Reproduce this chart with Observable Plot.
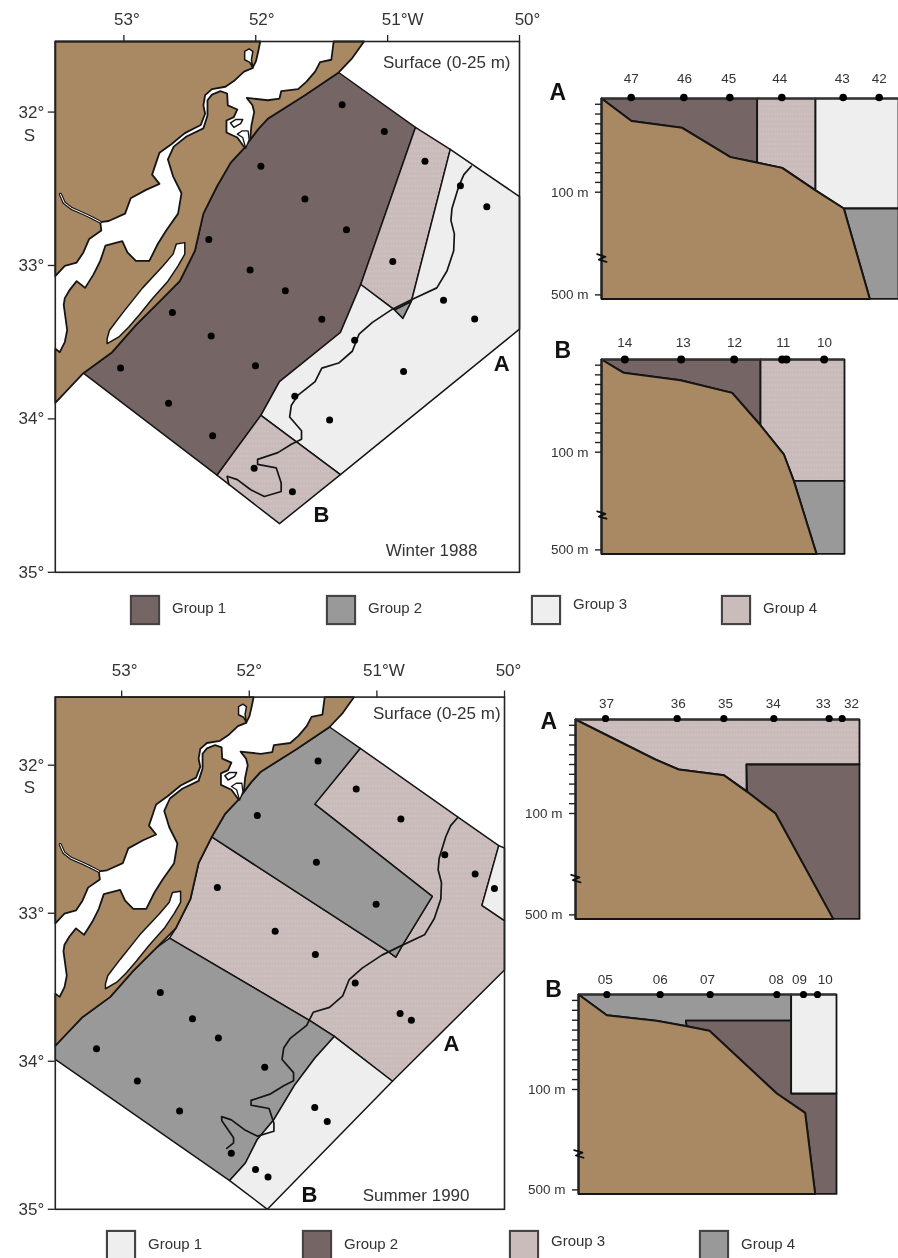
<!DOCTYPE html>
<html><head><meta charset="utf-8">
<script src="https://cdn.jsdelivr.net/npm/d3@7"></script>
<script src="https://cdn.jsdelivr.net/npm/@observablehq/plot@0.6"></script>
<style>
html,body{margin:0;padding:0;background:#fff}
#page{position:relative;width:898px;height:1258px;overflow:hidden;font-family:"Liberation Sans",Arial,sans-serif;color:#333;filter:blur(.35px)}
#page svg{position:absolute;overflow:visible;background:transparent}
.sw{position:absolute;width:26px;height:26px;border:2px solid #444;box-sizing:content-box;box-shadow:0 0 1px #666}
.lb{position:absolute;font-size:15px;line-height:18px;white-space:nowrap}
</style></head><body><div id="page"><svg width="0" height="0"><defs><pattern id="stip" width="3" height="5" patternUnits="userSpaceOnUse"><rect width="3" height="5" fill="#cabbbb"/><rect width="1" height="1" fill="#dacfcf"/></pattern></defs></svg></div>
<script>
const ink="#151515", textInk="#333";
const BROWN="#a98864", DARK="#756565", GREY="#999999", LIGHT="#eeeeee", PINK="url(#stip)";
const FONT='"Liberation Sans",Arial,sans-serif';

// ---- geography: [degrees W, degrees S] ----
const shore=[[51.371,31.742],[51.627,31.890],[51.909,32.044],[51.981,32.111],[52.084,32.232],[52.191,32.331],[52.294,32.485],[52.397,32.662],[52.461,32.904],[52.576,33.102],[52.730,33.235],[52.909,33.389],[53.089,33.565],[53.307,33.702]];
const landWest=[[53.52,31.54],[51.966,31.54],[51.981,31.604],[51.999,31.670],[52.025,31.714],[52.089,31.736],[52.166,31.798],[52.230,31.835],[52.332,31.850],[52.384,31.890],[52.397,31.956],[52.384,32.011],[52.417,32.084],[52.538,32.137],[52.640,32.210],[52.730,32.265],[52.756,32.331],[52.786,32.408],[52.730,32.468],[52.832,32.507],[52.948,32.562],[52.991,32.662],[53.115,32.710],[53.179,32.717],[53.171,32.772],[53.263,32.827],[53.307,32.915],[53.358,32.981],[53.448,33.003],[53.52,33.069]];
const landNorth=[[51.409,31.54],[51.179,31.54],[51.268,31.648],...shore.slice(0,4),[52.043,32.181],[52.033,32.088],[52.012,32.000],[52.025,31.956],[52.068,31.908],[51.909,31.923],[51.820,31.912],[51.807,31.864],[51.679,31.850],[51.615,31.802],[51.550,31.736],[51.512,31.674],[51.427,31.659]];
const landSouth=[[52.268,31.864],[52.217,31.879],[52.212,31.956],[52.140,31.983],[52.166,32.033],[52.222,32.055],[52.222,32.133],[52.140,32.166],...shore.slice(4),[53.52,33.896],[53.52,33.543],[53.486,33.565],[53.448,33.499],[53.430,33.422],[53.456,33.257],[53.448,33.213],[53.409,33.157],[53.358,33.102],[53.294,33.146],[53.230,33.058],[53.179,32.970],[53.140,32.871],[53.012,32.842],[52.973,32.915],[52.909,32.970],[52.807,32.970],[52.743,32.860],[52.679,32.772],[52.589,32.662],[52.563,32.529],[52.627,32.419],[52.666,32.309],[52.622,32.225],[52.525,32.159],[52.397,32.106],[52.366,32.022],[52.366,31.923],[52.332,31.886]];
const lakeNorth=[[52.084,31.604],[52.050,31.588],[52.022,31.604],[52.033,31.659],[52.022,31.714],[52.045,31.676],[52.084,31.659]];
const lakeSmall=[[52.191,32.071],[52.153,32.049],[52.099,32.049],[52.115,32.075],[52.166,32.100]];
const lakeMouth=[[52.140,32.144],[52.102,32.122],[52.058,32.122],[52.050,32.181],[52.076,32.236],[52.099,32.166]];
const lakeLong=[[52.602,32.860],[52.538,32.851],[52.538,32.926],[52.589,33.003],[52.666,33.102],[52.781,33.213],[52.884,33.323],[52.961,33.400],[53.038,33.466],[53.127,33.510],[53.127,33.477],[53.109,33.422],[53.012,33.312],[52.858,33.146],[52.704,33.003],[52.627,32.926]];
const stream=[[53.481,32.536],[53.453,32.591],[53.397,32.628],[53.307,32.662],[53.243,32.688],[53.179,32.717]];
const isobath=[[50.366,32.353],[50.422,32.408],[50.461,32.485],[50.512,32.628],[50.520,32.706],[50.494,32.794],[50.499,32.904],[50.550,33.036],[50.627,33.146],[50.820,33.224],[50.961,33.283],[51.115,33.371],[51.217,33.448],[51.268,33.559],[51.371,33.636],[51.499,33.669],[51.550,33.757],[51.679,33.845],[51.730,33.911],[51.743,33.988],[51.653,34.077],[51.653,34.132],[51.730,34.165],[51.832,34.220],[51.986,34.264],[51.986,34.297],[51.845,34.319],[51.807,34.418],[51.807,34.473],[51.935,34.506],[52.038,34.462],[52.140,34.396],[52.217,34.374]];
const isobathTailWinter=[[52.204,34.429]];
const isobathTailSummer=[[52.215,34.402],[52.123,34.516],[52.123,34.551],[52.176,34.589]];

// ---- winter 1988 water masses and stations ----
const winterG1=[[51.371,31.742],[50.789,32.100],[51.204,33.124],[51.358,33.437],[51.820,33.757],[51.961,33.977],[52.294,34.367],...[...shore].reverse().slice(0,-1)];
const winterG4North=[[50.789,32.100],[50.525,32.243],[50.820,33.235],[50.948,33.290],[51.204,33.124]];
const winterG2=[[50.948,33.290],[50.820,33.235],[50.884,33.345]];
const winterG3=[[50.525,32.243],[50.0,32.551],[50.0,33.415],[51.358,34.363],[51.961,33.977],[51.820,33.757],[51.358,33.437],[51.204,33.124],[50.948,33.290],[50.884,33.345],[50.820,33.235]];
const winterG4South=[[51.961,33.977],[51.358,34.363],[51.820,34.683],[52.294,34.367]];
const winterStations=[[51.345,31.952],[51.025,32.126],[50.717,32.320],[51.961,32.353],[51.627,32.567],[51.312,32.767],[50.448,32.481],[50.248,32.617],[52.356,32.831],[52.043,33.030],[51.776,33.164],[50.961,32.974],[50.576,33.226],[52.632,33.307],[51.499,33.351],[50.340,33.349],[52.338,33.459],[51.250,33.488],[53.025,33.669],[52.002,33.653],[50.879,33.691],[51.704,33.852],[52.661,33.898],[51.440,34.008],[52.327,34.110],[52.012,34.321],[51.722,34.475]];

// ---- summer 1990 water masses and stations ----
const summerG4North=[[51.130,31.886],[51.487,32.263],[50.566,32.886],[50.799,33.216],[50.852,33.296],[50.918,33.255],[52.294,32.485],[52.191,32.331],[52.084,32.232],[51.981,32.111],[51.909,32.044],[51.627,31.890],[51.371,31.742]];
const summerG3=[[51.130,31.886],[50.370,32.347],[50.045,32.543],[50.177,32.947],[50.0,33.050],[50.0,33.383],[50.878,34.135],[51.334,33.832],[51.519,33.729],[52.625,33.168],[52.576,33.102],[52.461,32.904],[52.397,32.662],[52.294,32.485],[50.918,33.255],[50.852,33.296],[50.799,33.216],[50.566,32.886],[51.487,32.263]];
const summerG1Corner=[[50.045,32.543],[50.0,32.559],[50.0,33.050],[50.177,32.947]];
const summerG4South=[[52.625,33.168],[51.519,33.729],[51.334,33.832],[51.487,33.980],[51.646,34.163],[51.805,34.391],[51.937,34.528],[52.030,34.687],[52.154,34.806],[53.52,33.987],[53.52,33.889],[53.307,33.702],[53.089,33.565],[52.909,33.389],[52.730,33.235]];
const summerG1South=[[51.334,33.832],[50.878,34.135],[51.858,35.0],[52.154,34.806],[52.030,34.687],[51.937,34.528],[51.805,34.391],[51.646,34.163],[51.487,33.980]];
const summerStations=[[51.461,31.971],[51.162,32.160],[50.812,32.363],[51.937,32.340],[51.474,32.655],[50.468,32.605],[50.230,32.735],[50.079,32.833],[52.250,32.826],[51.006,32.940],[51.797,33.121],[51.482,33.278],[52.697,33.536],[52.445,33.713],[52.242,33.843],[51.170,33.472],[50.818,33.677],[50.730,33.723],[53.197,33.916],[52.877,34.133],[51.879,34.040],[52.546,34.336],[51.487,34.313],[51.389,34.407],[52.141,34.621],[51.951,34.731],[51.853,34.781]];

// ---- axis labels ----
const lonTicks=[53,52,51,50];
const lonLabels=["53°","52°","51°W","50°"];
const latTicks=[32,33,34,35];

// ---- sections: [distance along section, depth m] ----
const depthTicks=[10,20,30,40,50,60,70,80,90,100,500];
const breakMark=[[-13,326],[12,336],[-8,347],[15,356]];

const winterA={w:891,
  bottom:[[0,0],[90,23],[242,30],[387,60],[542,71],[642,94],[727,148],[805,500]],
  masses:[[DARK,[[0,0],[467,0],[467,65.5],[387,60],[242,30],[90,23]]],
          [PINK,[[467,0],[642,0],[642,94],[542,71],[467,65.5]]],
          [LIGHT,[[642,0],[891,0],[891,148],[727,148],[642,94]]],
          [GREY,[[727,148],[891,148],[891,500],[805,500]]]]};
const winterAStations=[89,247,385,541,725,833];
const winterALabels=["47","46","45","44","43","42"];
const winterALabelX=[89,249,382,535,722,833];
const winterB={w:729,
  bottom:[[0,0],[67,13.8],[237,21.4],[392,34.5],[477,68],[547,98],[577,201],[645,500]],
  masses:[[DARK,[[0,0],[477,0],[477,68],[392,34.5],[237,21.4],[67,13.8]]],
          [PINK,[[477,0],[729,0],[729,201],[577,201],[547,98],[477,68]]],
          [GREY,[[577,201],[729,201],[729,500],[645,500]]]]};
const winterBStations=[70,239,398,542,555,668];
const winterBLabels=["14","13","12","11","10"];
const winterBLabelX=[70,245,399,545,669];
const summerA={w:852,
  bottom:[[0,0],[240,40.8],[310,51],[445,56.8],[515,73.8],[600,95.9],[773,500]],
  masses:[[PINK,[[0,0],[852,0],[852,45.9],[513,45.9],[513,73],[445,56.8],[310,51],[240,40.8]]],
          [DARK,[[513,45.9],[852,45.9],[852,500],[773,500],[600,95.9],[515,73.8]]]]};
const summerAStations=[90,305,445,595,761,800];
const summerALabels=["37","36","35","34","33","32"];
const summerALabelX=[93,308,450,593,743,828];
const summerB={w:774,
  bottom:[[0,0],[85,20.9],[235,26.6],[325,32],[393,36.7],[595,100],[680,177],[710,500]],
  masses:[[GREY,[[0,0],[638,0],[638,26.3],[322,26.3],[325,32],[235,26.6],[85,20.9]]],
          [DARK,[[322,26.3],[638,26.3],[638,100],[774,100],[774,500],[710,500],[680,177],[595,100],[393,36.7],[325,32]]],
          [LIGHT,[[638,0],[774,0],[774,100],[638,100]]]]};
const summerBStations=[85,245,395,595,675,717];
const summerBLabels=["05","06","07","08","09","10"];
const summerBLabelX=[80,245,387,593,663,740];

// ---- legends ----
const groupNames=["Group 1","Group 2","Group 3","Group 4"];
const winterLegendColors=[DARK,GREY,LIGHT,"#cbbcbc"];
const summerLegendColors=[LIGHT,DARK,"#cbbcbc",GREY];

// ---- drawing ----
const page=document.getElementById("page");
function place(svg,left,top){svg.style.left=left+"px";svg.style.top=top+"px";page.appendChild(svg);}
const X=d=>d[0],Y=d=>d[1];
const ring=(pts,fill,sw=1.5)=>Plot.line(pts,{x:X,y:Y,curve:"linear-closed",fill,stroke:ink,strokeWidth:sw,strokeLinejoin:"round"});

function map(o){
  const land=[ring(landWest,BROWN,1.8),ring(landNorth,BROWN,1.8),ring(landSouth,BROWN,1.8),
    ring(lakeNorth,"#fff",1.5),ring(lakeSmall,"#fff",1.5),ring(lakeMouth,"#fff",1.3),ring(lakeLong,"#fff",1.5),
    Plot.line(stream,{x:X,y:Y,stroke:ink,strokeWidth:3.2}),Plot.line(stream,{x:X,y:Y,stroke:"#fff",strokeWidth:1})];
  const lonMarks=lonTicks.map((t,i)=>Plot.text([lonLabels[i]],{x:()=>t,frameAnchor:"top",dy:-o.lonDy,dx:o.lonDx[i],text:d=>d,fontSize:17,fill:textInk,lineAnchor:"middle"}));
  const plot=Plot.plot({width:o.width,height:o.height,marginLeft:o.ml,marginTop:o.mt,marginRight:o.mr,marginBottom:o.mb,
    style:{fontFamily:FONT,background:"transparent",overflow:"visible"},
    x:{domain:[53.52,50]},y:{domain:[35,31.54]},
    marks:[
      ...o.masses.map(([c,p])=>ring(p,c)),
      Plot.line(o.isobath,{x:X,y:Y,stroke:ink,strokeWidth:1.7,strokeLinejoin:"round"}),
      ...land,
      Plot.dot(o.stations,{x:X,y:Y,r:3.5,fill:"#000"}),
      Plot.frame({stroke:"#222",strokeWidth:1.6}),
      Plot.axisX(lonTicks,{anchor:"top",tickSize:7,tickFormat:()=>"",label:null,stroke:"#222",strokeWidth:1.3}),
      ...lonMarks,
      Plot.axisY(latTicks,{anchor:"left",tickSize:7,tickPadding:4,tickFormat:d=>d+"°",fontSize:17,label:null,stroke:"#222",strokeWidth:1.3,fill:textInk}),
      Plot.text(["S"],{x:()=>53.52,y:()=>32,dx:-26,dy:o.sDy,text:d=>d,fontSize:17,fill:textInk}),
      Plot.text(["Surface (0-25 m)"],{x:()=>o.surface[0],y:()=>o.surface[1],text:d=>d,textAnchor:"end",fontSize:17,fill:textInk}),
      Plot.text([o.season],{x:()=>o.seasonAt[0],y:()=>o.seasonAt[1],text:d=>d,textAnchor:"end",fontSize:17,fill:textInk}),
      Plot.text(["A"],{x:()=>o.aAt[0],y:()=>o.aAt[1],text:d=>d,fontSize:22,fontWeight:700,fill:"#111"}),
      Plot.text(["B"],{x:()=>o.bAt[0],y:()=>o.bAt[1],text:d=>d,fontSize:22,fontWeight:700,fill:"#111"})
    ]});
  place(plot,o.left,o.top);
}

map({left:0,top:0,width:545,height:590,ml:54.8,mt:41,mr:26,mb:18.2,lonDy:22,lonDx:[3,6,15,8],sDy:23,
  masses:[[DARK,winterG1],[PINK,winterG4North],[GREY,winterG2],[LIGHT,winterG3],[PINK,winterG4South]],
  isobath:[...isobath,...isobathTailWinter],stations:winterStations,
  surface:[50.068,31.677],season:"Winter 1988",seasonAt:[50.319,34.858],aAt:[50.136,33.642],bAt:[51.502,34.629]});

map({left:0,top:650,width:530,height:575,ml:54.8,mt:46.6,mr:26,mb:16.2,lonDy:27,lonDx:[3,0,7,4],sDy:22,
  masses:[[PINK,summerG3],[GREY,summerG4North],[LIGHT,summerG1Corner],[GREY,summerG4South],[LIGHT,summerG1South]],
  isobath:[...isobath,...isobathTailSummer],stations:summerStations,
  surface:[50.031,31.651],season:"Summer 1990",seasonAt:[50.274,34.907],aAt:[50.415,33.880],bAt:[51.528,34.900]});

function section(o){
  const s=o.spec, top=40, h=o.y100-o.y0, H=o.y500-o.y0, ml=70;
  const plot=Plot.plot({width:ml+(o.right-o.x0)+12,height:top+H+10,marginLeft:ml,marginTop:top,marginRight:12,marginBottom:10,
    style:{fontFamily:FONT,background:"transparent",overflow:"visible"},
    x:{domain:[0,s.w],axis:null},y:{type:"linear",domain:[0,100,500],range:[top,top+h,top+H]},
    marks:[
      ...s.masses.map(([c,p])=>ring(p,c,1.8)),
      ring(s.bottom.concat([[0,500]]),BROWN,2),
      Plot.ruleY([0],{stroke:"#333",strokeWidth:2}),
      Plot.ruleX([0],{stroke:"#222",strokeWidth:2}),
      Plot.axisY(depthTicks,{anchor:"left",tickSize:6,tickPadding:7,dy:-4,tickFormat:d=>d>=100&&d%100==0?d+" m":"",fontSize:13.5,label:null,stroke:"#222",strokeWidth:1.4,fill:textInk}),
      Plot.line(breakMark,{x:X,y:Y,stroke:"#111",strokeWidth:1.8}),
      Plot.dot(o.stations,{x:d=>d,y:()=>0,dy:o.dotDy,r:o.r,fill:"#000"}),
      ...o.labels.map((t,i)=>Plot.text([t],{x:()=>o.labelX[i],y:()=>0,dy:-o.labelLift,text:d=>d,fontSize:13.5,fill:textInk})),
      Plot.text([o.letter],{x:()=>o.letterAt[0],y:()=>0,dy:o.letterAt[1],text:d=>d,fontSize:23,fontWeight:700,fill:"#111"})
    ]});
  place(plot,o.x0-ml,o.y0-top);
}
section({spec:winterA,x0:601,right:898,y0:98.3,y100:196,y500:298.7,stations:winterAStations,labels:winterALabels,labelX:winterALabelX,labelLift:20,dotDy:-1,r:3.8,letter:"A",letterAt:[-131,-6]});
section({spec:winterB,x0:601,right:844,y0:359.3,y100:456,y500:553.7,stations:winterBStations,labels:winterBLabels,labelX:winterBLabelX,labelLift:17,dotDy:0,r:4,letter:"B",letterAt:[-116,-9]});
section({spec:summerA,x0:575,right:859,y0:719.3,y100:817.3,y500:918.7,stations:summerAStations,labels:summerALabels,labelX:summerALabelX,labelLift:16,dotDy:-1,r:3.6,letter:"A",letterAt:[-80,2]});
section({spec:summerB,x0:578,right:836,y0:994.3,y100:1093.3,y500:1193.7,stations:summerBStations,labels:summerBLabels,labelX:summerBLabelX,labelLift:15,dotDy:0,r:3.6,letter:"B",letterAt:[-75,-5]});

function legend(colors,swatchX,swatchY,textY){
  groupNames.forEach((n,i)=>{
    const s=document.createElement("div");s.className="sw";
    s.style.cssText=`left:${swatchX[i]}px;top:${swatchY}px;background:${colors[i]}`;page.appendChild(s);
    const t=document.createElement("div");t.className="lb";t.textContent=n;
    t.style.cssText=`left:${swatchX[i]+42}px;top:${textY[i]-9}px`;page.appendChild(t);
  });
}
legend(winterLegendColors,[130,326,531,721],595,[608,608,604,608]);
legend(summerLegendColors,[106,302,509,699],1230,[1244,1244,1241,1244]);
</script></body></html>
